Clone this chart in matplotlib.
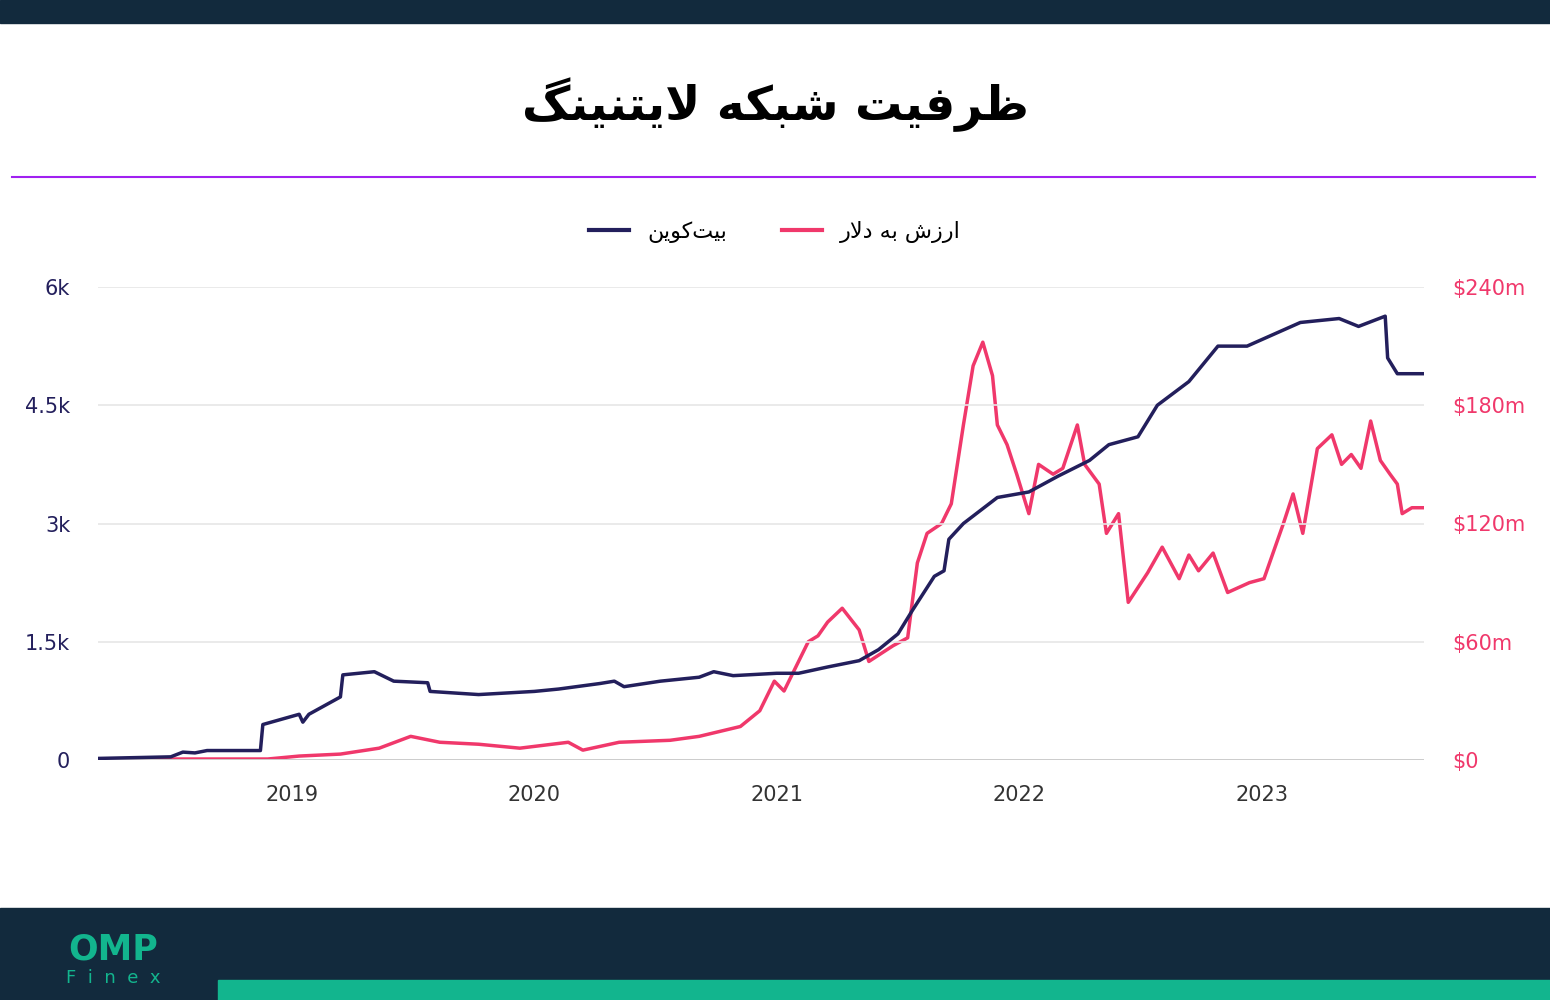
import matplotlib
matplotlib.use("Agg")
import matplotlib.pyplot as plt
import numpy as np
from matplotlib.lines import Line2D

# ---------- Persian shaping (presentation forms) ----------
FORMS = {  # isol, fin, init, med  (None => right-joining only)
    'ا': ('\uFE8D', '\uFE8E', None, None),
    'ب': ('\uFE8F', '\uFE90', '\uFE91', '\uFE92'),
    'ت': ('\uFE95', '\uFE96', '\uFE97', '\uFE98'),
    'د': ('\uFEA9', '\uFEAA', None, None),
    'ر': ('\uFEAD', '\uFEAE', None, None),
    'ز': ('\uFEAF', '\uFEB0', None, None),
    'ش': ('\uFEB5', '\uFEB6', '\uFEB7', '\uFEB8'),
    'ظ': ('\uFEC5', '\uFEC6', '\uFEC7', '\uFEC8'),
    'ف': ('\uFED1', '\uFED2', '\uFED3', '\uFED4'),
    'ک': ('\uFB8E', '\uFB8F', '\uFB90', '\uFB91'),
    'گ': ('\uFB92', '\uFB93', '\uFB94', '\uFB95'),
    'ل': ('\uFEDD', '\uFEDE', '\uFEDF', '\uFEE0'),
    'ن': ('\uFEE5', '\uFEE6', '\uFEE7', '\uFEE8'),
    'ه': ('\uFEE9', '\uFEEA', '\uFEEB', '\uFEEC'),
    'و': ('\uFEED', '\uFEEE', None, None),
    'ی': ('\uFBFC', '\uFBFD', '\uFBFE', '\uFBFF'),
}


def shape(text):
    chars = list(text)
    out = []
    i = 0
    n = len(chars)
    while i < n:
        c = chars[i]
        if c not in FORMS:
            if c != '\u200c':
                out.append(c)
            i += 1
            continue
        prev = chars[i - 1] if i > 0 else None
        join_prev = prev in FORMS and FORMS[prev][2] is not None
        if c == 'ل' and i + 1 < n and chars[i + 1] == 'ا':
            out.append('\uFEFC' if join_prev else '\uFEFB')
            i += 2
            continue
        nxt = chars[i + 1] if i + 1 < n else None
        join_next = FORMS[c][2] is not None and nxt in FORMS
        iso, fin, ini, med = FORMS[c]
        if join_prev and join_next:
            out.append(med)
        elif join_prev:
            out.append(fin)
        elif join_next:
            out.append(ini)
        else:
            out.append(iso)
        i += 1
    return ''.join(reversed(out))

# ---------- data ----------
title_text = "ظرفیت شبکه لایتنینگ"
series_names = ["بیت\u200cکوین", "ارزش به دلار"]
x_ticks = [2019, 2020, 2021, 2022, 2023]
left_ticks = [0, 1500, 3000, 4500, 6000]
left_labels = ["0", "1.5k", "3k", "4.5k", "6k"]
right_labels = ["$0", "$60m", "$120m", "$180m", "$240m"]

btc_t = [2018.20, 2018.50, 2018.55, 2018.60, 2018.65, 2018.87, 2018.88, 2019.03, 2019.045, 2019.07,
         2019.20, 2019.21, 2019.34, 2019.42, 2019.56, 2019.57, 2019.77, 2020.00, 2020.10, 2020.27,
         2020.33, 2020.37, 2020.52, 2020.68, 2020.74, 2020.82, 2021.00, 2021.09, 2021.21, 2021.34,
         2021.42, 2021.50, 2021.56, 2021.65, 2021.69, 2021.71, 2021.77, 2021.91, 2022.04, 2022.16,
         2022.29, 2022.37, 2022.49, 2022.57, 2022.70, 2022.82, 2022.94, 2023.16, 2023.32, 2023.40,
         2023.51, 2023.52, 2023.56, 2023.67]
btc_v = [20, 40, 100, 90, 120, 120, 450, 580, 480, 580,
         800, 1080, 1120, 1000, 980, 870, 830, 870, 900, 970,
         1000, 930, 1000, 1050, 1120, 1070, 1100, 1100, 1180, 1260,
         1400, 1600, 1900, 2330, 2400, 2800, 3000, 3330, 3400, 3600,
         3800, 4000, 4100, 4500, 4800, 5250, 5250, 5550, 5600, 5500,
         5630, 5100, 4900, 4900]

usd_t = [2018.20, 2018.90, 2019.03, 2019.20, 2019.36, 2019.49, 2019.61, 2019.77, 2019.94, 2020.14,
         2020.20, 2020.35, 2020.56, 2020.68, 2020.85, 2020.93, 2020.99, 2021.03, 2021.09, 2021.13,
         2021.17, 2021.21, 2021.27, 2021.34, 2021.38, 2021.48, 2021.54, 2021.58, 2021.62, 2021.68,
         2021.72, 2021.77, 2021.81, 2021.85, 2021.89, 2021.91, 2021.95, 2021.99, 2022.04, 2022.08,
         2022.14, 2022.18, 2022.24, 2022.27, 2022.33, 2022.36, 2022.41, 2022.45, 2022.53, 2022.59,
         2022.66, 2022.70, 2022.74, 2022.80, 2022.86, 2022.95, 2023.01, 2023.09, 2023.13, 2023.17,
         2023.23, 2023.29, 2023.33, 2023.37, 2023.41, 2023.45, 2023.49, 2023.53, 2023.56, 2023.58,
         2023.62, 2023.67]
usd_v = [0.5, 0.5, 2, 3, 6, 12, 9, 8, 6, 9,
         5, 9, 10, 12, 17, 25, 40, 35, 50, 60,
         63, 70, 77, 66, 50, 58, 62, 100, 115, 120,
         130, 170, 200, 212, 195, 170, 160, 145, 125, 150,
         145, 148, 170, 150, 140, 115, 125, 80, 95, 108,
         92, 104, 96, 105, 85, 90, 92, 120, 135, 115,
         158, 165, 150, 155, 148, 172, 152, 145, 140, 125,
         128, 128]

NAVY = "#231f5c"
RED = "#f0386b"
DARK = "#122a3d"

fig = plt.figure(figsize=(15.5, 10), dpi=100)
fig.patch.set_facecolor("white")

# header / footer bands
fig.patches.append(plt.Rectangle((0, 0.977), 1, 0.023, transform=fig.transFigure, color=DARK))
fig.patches.append(plt.Rectangle((0, 0), 1, 0.092, transform=fig.transFigure, color=DARK))
fig.patches.append(plt.Rectangle((218 / 1550, 0), 1, 0.02, transform=fig.transFigure, color="#12b58e"))
fig.add_artist(Line2D([12 / 1550, 1535 / 1550], [0.823, 0.823], transform=fig.transFigure,
                      color="#a020f0", lw=1.5))
fig.text(0.5, 0.895, shape(title_text), ha="center", va="center", fontsize=34,
         fontweight="bold", family="DejaVu Sans", color="black")
fig.text(113 / 1550, 0.051, "OMP", ha="center", va="center", fontsize=25, fontweight="bold",
         color="#12b58e")
fig.text(113 / 1550, 0.022, "F  i  n  e  x", ha="center", va="center", fontsize=13, color="#12b58e")

ax = fig.add_axes([98 / 1550, 0.24, 1326 / 1550, 0.473])
ax2 = ax.twinx()
ax.plot(btc_t, btc_v, color=NAVY, lw=2.5, zorder=3)
ax2.plot(usd_t, usd_v, color=RED, lw=2.5)
ax.set_zorder(ax2.get_zorder() + 1)
ax.patch.set_visible(False)

ax.set_xlim(2018.2, 2023.67)
ax.set_ylim(0, 6000)
ax2.set_ylim(0, 240)
ax.set_xticks(x_ticks)
ax.set_xticklabels([str(t) for t in x_ticks])
ax.set_yticks(left_ticks)
ax.set_yticklabels(left_labels)
ax2.set_yticks([0, 60, 120, 180, 240])
ax2.set_yticklabels(right_labels)
ax.grid(axis="y", color="#e6e6e6", lw=1.2)
for a in (ax, ax2):
    for s in ["top", "right", "left", "bottom"]:
        a.spines[s].set_visible(False)
ax.axhline(0, color="#333333", lw=1.2, zorder=1)
ax.tick_params(axis="x", length=0, labelsize=15, colors="#333333", pad=18)
ax.tick_params(axis="y", length=0, labelsize=15, colors=NAVY, pad=20)
ax2.tick_params(axis="y", length=0, labelsize=15, colors=RED, pad=20)

handles = [Line2D([], [], color=NAVY, lw=3), Line2D([], [], color=RED, lw=3)]
leg = fig.legend(handles, [shape(series_names[0]), shape(series_names[1])], loc="center",
                 bbox_to_anchor=(0.5, 0.768), ncol=2, frameon=False,
                 markerfirst=True, handlelength=1.8, columnspacing=2.5,
                 prop={"family": "DejaVu Sans", "size": 16})
fig.savefig("out.png", dpi=100)
